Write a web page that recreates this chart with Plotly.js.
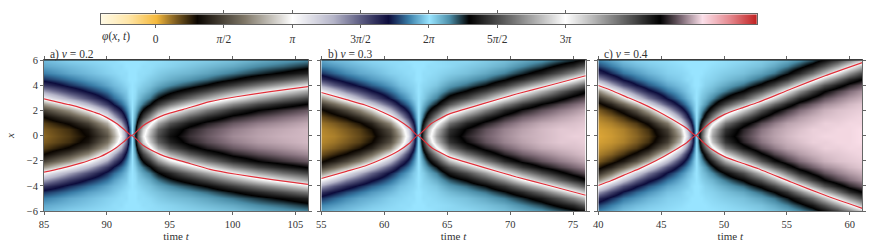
<!DOCTYPE html>
<html><head><meta charset="utf-8">
<script src="https://cdn.plot.ly/plotly-3.0.1.min.js"></script>
<style>html,body{margin:0;padding:0;background:#fff}#c{width:880px;height:243px}</style>
</head><body><div id="c"></div>
<script>
// x rows (upper half; the picture is mirror-symmetric about x = 0)
const xHalf = [0,0.5,1,1.5,2,2.5,3,3.5,4,4.5,5,5.5,6];

// phase in units of pi, one list per time column
const tA = [85,87,88.5,90,90.6,91.1,91.5,91.8,92,92.2,92.5,92.9,93.4,94.1,95,96.5,98,100,102,104,106];
const phiA = [
[.13,.15,.20,.30,.48,.73,1.05,1.35,1.59,1.75,1.85,1.91,1.94],
[.21,.23,.32,.48,.72,1.03,1.34,1.58,1.74,1.84,1.91,1.94,1.97],
[.31,.35,.48,.69,.99,1.29,1.54,1.72,1.83,1.90,1.94,1.96,1.98],
[.54,.63,.79,1.06,1.35,1.59,1.74,1.84,1.91,1.94,1.97,1.98,1.99],
[.77,.85,1.05,1.31,1.55,1.72,1.83,1.90,1.94,1.96,1.98,1.99,1.99],
[1.05,1.13,1.32,1.53,1.70,1.82,1.89,1.94,1.96,1.98,1.99,1.99,2],
[1.40,1.46,1.61,1.74,1.84,1.90,1.94,1.96,1.98,1.99,1.99,2,2],
[1.75,1.77,1.84,1.89,1.93,1.96,1.98,1.99,1.99,2,2,2,2],
[2,2,2,2,2,2,2,2,2,2,2,2,2],
[2.26,2.23,2.16,2.11,2.07,2.04,2.02,2.01,2.01,2,2,2,2],
[2.60,2.54,2.39,2.26,2.16,2.10,2.06,2.04,2.02,2.01,2.01,2,2],
[2.95,2.87,2.68,2.47,2.30,2.18,2.11,2.06,2.04,2.02,2.01,2.01,2],
[3.23,3.15,2.95,2.69,2.45,2.28,2.17,2.10,2.06,2.04,2.02,2.01,2.01],
[3.49,3.43,3.25,2.98,2.69,2.44,2.28,2.17,2.10,2.06,2.04,2.02,2.01],
[3.65,3.60,3.47,3.23,2.93,2.63,2.39,2.25,2.15,2.09,2.06,2.03,2.02],
[3.76,3.73,3.63,3.45,3.18,2.87,2.58,2.36,2.22,2.13,2.08,2.05,2.03],
[3.82,3.80,3.73,3.59,3.37,3.07,2.76,2.49,2.30,2.18,2.11,2.07,2.04],
[3.89,3.87,3.82,3.73,3.57,3.33,3.02,2.71,2.46,2.28,2.17,2.10,2.06],
[3.92,3.91,3.87,3.80,3.69,3.50,3.23,2.91,2.62,2.39,2.24,2.15,2.09],
[3.94,3.93,3.90,3.85,3.76,3.61,3.39,3.09,2.77,2.50,2.31,2.19,2.12],
[3.95,3.95,3.93,3.89,3.82,3.70,3.51,3.25,2.93,2.63,2.39,2.25,2.15]
];
const tB = [55,56,57,58,59,60.5,61.3,61.9,62.3,62.55,62.7,62.85,63.1,63.5,64.1,65.2,66.5,68,69.5,71,72.5,74,75,76];
const phiB = [
[.07,.08,.11,.17,.28,.46,.72,1.04,1.35,1.60,1.75,1.86,1.91],
[.09,.11,.15,.24,.38,.61,.90,1.23,1.51,1.70,1.82,1.89,1.94],
[.13,.15,.20,.31,.50,.77,1.10,1.41,1.63,1.78,1.87,1.92,1.95],
[.18,.20,.28,.43,.67,.98,1.30,1.55,1.73,1.84,1.91,1.94,1.97],
[.25,.29,.39,.60,.88,1.20,1.48,1.68,1.81,1.89,1.93,1.96,1.98],
[.47,.53,.70,.98,1.28,1.53,1.72,1.83,1.90,1.94,1.97,1.98,1.99],
[.74,.83,1.04,1.31,1.56,1.73,1.84,1.91,1.95,1.97,1.98,1.99,1.99],
[1.11,1.19,1.39,1.59,1.74,1.84,1.91,1.95,1.97,1.98,1.99,1.99,2],
[1.50,1.55,1.67,1.79,1.87,1.92,1.96,1.97,1.98,1.99,1.99,2,2],
[1.80,1.83,1.88,1.92,1.95,1.97,1.98,1.99,1.99,2,2,2,2],
[2,2,2,2,2,2,2,2,2,2,2,2,2],
[2.20,2.17,2.12,2.08,2.05,2.03,2.02,2.01,2.01,2,2,2,2],
[2.50,2.45,2.33,2.21,2.13,2.08,2.04,2.03,2.02,2.01,2.01,2,2],
[2.89,2.81,2.61,2.41,2.26,2.16,2.09,2.05,2.03,2.02,2.01,2.01,2],
[3.26,3.17,2.96,2.69,2.44,2.27,2.16,2.09,2.05,2.03,2.02,2.01,2.01],
[3.60,3.55,3.39,3.13,2.81,2.52,2.34,2.20,2.12,2.07,2.04,2.02,2.02],
[3.74,3.70,3.59,3.38,3.08,2.77,2.49,2.30,2.18,2.11,2.06,2.04,2.02],
[3.83,3.81,3.73,3.59,3.35,3.04,2.73,2.47,2.28,2.17,2.10,2.06,2.04],
[3.89,3.88,3.83,3.74,3.58,3.33,3.02,2.69,2.44,2.27,2.16,2.09,2.06],
[3.93,3.92,3.89,3.83,3.72,3.54,3.28,2.96,2.65,2.40,2.25,2.15,2.09],
[3.95,3.95,3.93,3.88,3.81,3.69,3.49,3.21,2.88,2.58,2.36,2.22,2.13],
[3.97,3.97,3.95,3.92,3.87,3.79,3.65,3.44,3.14,2.81,2.53,2.33,2.20],
[3.98,3.97,3.96,3.94,3.90,3.84,3.74,3.57,3.31,2.99,2.67,2.41,2.25],
[3.98,3.98,3.97,3.96,3.93,3.88,3.80,3.67,3.46,3.17,2.83,2.55,2.34]
];
const tC = [40,41,42,43,44,45.5,46.5,47.1,47.4,47.65,47.8,47.95,48.2,48.5,49.1,50.1,51.5,53,54,55,56,57,58,59,60,61];
const phiC = [
[.03,.04,.06,.09,.15,.26,.43,.70,1.03,1.36,1.61,1.77,1.86],
[.05,.06,.09,.14,.24,.40,.64,.96,1.30,1.56,1.74,1.85,1.91],
[.08,.09,.14,.22,.36,.59,.90,1.24,1.52,1.72,1.84,1.91,1.95],
[.13,.15,.21,.34,.54,.84,1.19,1.48,1.69,1.82,1.89,1.94,1.97],
[.20,.23,.33,.51,.79,1.13,1.43,1.66,1.80,1.88,1.93,1.96,1.98],
[.42,.48,.65,.94,1.26,1.53,1.72,1.84,1.91,1.95,1.97,1.98,1.99],
[.75,.84,1.07,1.35,1.60,1.76,1.86,1.92,1.95,1.97,1.98,1.99,2],
[1.16,1.25,1.44,1.64,1.78,1.87,1.93,1.96,1.97,1.99,1.99,2,2],
[1.47,1.53,1.67,1.80,1.88,1.93,1.96,1.98,1.99,1.99,2,2,2],
[1.80,1.82,1.88,1.92,1.96,1.97,1.99,1.99,2,2,2,2,2],
[2,2,2,2,2,2,2,2,2,2,2,2,2],
[2.21,2.18,2.13,2.08,2.05,2.03,2.02,2.01,2,2,2,2,2],
[2.53,2.48,2.34,2.20,2.13,2.07,2.05,2.03,2.01,2.01,2,2,2],
[2.84,2.76,2.56,2.36,2.22,2.13,2.08,2.05,2.03,2.02,2.01,2,2],
[3.25,3.17,2.94,2.65,2.40,2.25,2.15,2.08,2.05,2.03,2.02,2.01,2],
[3.61,3.55,3.38,3.10,2.77,2.49,2.30,2.17,2.10,2.06,2.04,2.02,2.01],
[3.77,3.74,3.63,3.42,3.13,2.79,2.50,2.30,2.18,2.10,2.06,2.04,2.02],
[3.88,3.86,3.80,3.67,3.47,3.18,2.83,2.53,2.32,2.19,2.11,2.06,2.04],
[3.92,3.91,3.87,3.79,3.65,3.42,3.11,2.76,2.49,2.29,2.17,2.10,2.06],
[3.95,3.94,3.92,3.86,3.77,3.61,3.37,3.05,2.71,2.44,2.27,2.16,2.09],
[3.97,3.96,3.94,3.91,3.85,3.75,3.58,3.31,2.97,2.65,2.40,2.24,2.14],
[3.98,3.98,3.96,3.94,3.90,3.83,3.71,3.52,3.24,2.89,2.59,2.35,2.21],
[3.99,3.98,3.98,3.96,3.94,3.89,3.81,3.68,3.47,3.16,2.82,2.52,2.32],
[3.99,3.99,3.98,3.97,3.96,3.92,3.87,3.78,3.62,3.38,3.07,2.73,2.46],
[3.99,3.99,3.99,3.98,3.97,3.95,3.91,3.85,3.74,3.57,3.30,2.96,2.64],
[4,4,3.99,3.99,3.98,3.97,3.94,3.90,3.82,3.69,3.50,3.20,2.86]
];

// red tracks (upper branch, lower branch is its mirror image)
const redTA = [85,87,88,89,89.45,90,90.78,91.44,91.98,92.9,94.23,95,96.09,98.2,100.3,103,106];
const redXA = [2.92,2.45,2.18,1.85,1.69,1.42,.95,.42,0,.80,1.50,1.78,2.08,2.69,3.08,3.48,3.88];
const redTB = [55,57,58.47,59.8,61.12,62.05,62.66,63.24,63.77,65.09,66.4,67.87,70.5,73.17,76];
const redXB = [3.42,2.85,2.42,1.89,1.23,.57,0,.50,.97,1.68,2.10,2.53,3.30,3.99,4.75];
const redTC = [40,41,42.39,43.32,44.65,45.97,47.03,47.75,48.35,49.02,50.08,51.3,52.73,55.38,58.04,61];
const redXC = [3.97,3.6,3.0,2.61,1.97,1.23,.57,0,.55,1.1,1.70,2.15,2.64,3.72,4.75,5.79];

// colour bar
const barPhi = [-0.4,-0.3,-0.2,-0.1,0,0.1,0.2,0.3,0.4,0.5,0.6,0.7,0.8,0.9,1,1.1,1.2,1.3,1.4,1.5,1.6,1.7,1.8,1.9,2,2.1,2.2,2.3,2.4,2.5,2.6,2.7,2.8,2.9,3,3.1,3.2,3.3,3.4,3.5,3.6,3.7,3.8,3.9,4,4.1,4.2,4.3,4.4];
const barTicks = [0,0.5,1,1.5,2,2.5,3];
const barLabels = ['0','<i>π</i>/2','<i>π</i>','3<i>π</i>/2','2<i>π</i>','5<i>π</i>/2','3<i>π</i>'];
const stopPhi = [-0.4,-0.2,0,0.15,0.3,0.65,1,1.3,1.5,1.7,1.85,2,2.15,2.29,2.65,3,3.35,3.69,3.85,4,4.2,4.4];
const stopCol = ['#fff9e3','#ffe6a8','#f5b93c','#7a5a20','#0a0500','#807868','#ffffff','#b4b4c8','#5a5a80','#0c0c3c','#3a7ea8','#98e4ff','#4a8ca6','#000000','#808080','#ffffff','#808080','#000000','#806c78','#fbdfe9','#e58a90','#bf1e1e'];

const panelTicks = {a:[85,90,95,100,105], b:[55,60,65,70,75], c:[40,45,50,55,60]};
const panelRange = {a:[85,106], b:[55,76], c:[40,61]};
const yTicks = [-6,-4,-2,0,2,4,6];

const W=880,H=243;
const scale = stopPhi.map((p,i)=>[Math.max(0,Math.min(1,Math.round((p+0.4)/4.8*1e6)/1e6)), stopCol[i]]);
const full = c => c.slice(1).reverse().concat(c);
const yFull = xHalf.slice(1).reverse().map(v=>-v).concat(xHalf);
const txt = '#333333', ax = '#666666', F = 'Liberation Serif, serif';
const redLine = {color:'#e0323c',width:1.2,shape:'spline',smoothing:0.5};

function panel(k,t,phi,rt,rx,idx){
  const xa = idx===1?'x':'x'+idx, ya = idx===1?'y':'y'+idx;
  return [
   {type:'heatmap',x:t,y:yFull,z:phi.map(full),transpose:true,zsmooth:'best',zmin:-0.4,zmax:4.4,
    colorscale:scale,showscale:false,hoverinfo:'skip',xaxis:xa,yaxis:ya},
   {type:'scatter',mode:'lines',x:rt,y:rx,line:redLine,hoverinfo:'skip',showlegend:false,xaxis:xa,yaxis:ya},
   {type:'scatter',mode:'lines',x:rt,y:rx.map(v=>-v),line:redLine,hoverinfo:'skip',showlegend:false,xaxis:xa,yaxis:ya}
  ];
}
const data = [].concat(
  panel('a',tA,phiA,redTA,redXA,1),
  panel('b',tB,phiB,redTB,redXB,2),
  panel('c',tC,phiC,redTC,redXC,3),
  [{type:'heatmap',x:barPhi,y:[0,1],z:[barPhi,barPhi],zsmooth:'best',zmin:-0.4,zmax:4.4,colorscale:scale,showscale:false,hoverinfo:'skip',xaxis:'x4',yaxis:'y4'}]
);

const yDom = [(H-211)/H,(H-60)/H];
const common = {showgrid:false,zeroline:false,showline:true,linecolor:ax,linewidth:1,mirror:'ticks',ticks:'outside',ticklen:3,tickcolor:ax,tickwidth:1,
  tickfont:{family:F,size:10.5,color:txt}};
function xAxis(dom,ticks,range,anchor){
  return Object.assign({},common,{domain:[dom[0]/W,dom[1]/W],range:range,tickmode:'array',tickvals:ticks,ticktext:ticks.map(String),anchor:anchor,
    title:{text:'time <i>t</i>',font:{family:F,size:11,color:txt},standoff:1}});
}
function yAxis(anchor,labels){
  return Object.assign({},common,{domain:yDom,range:[-6,6],tickmode:'array',tickvals:yTicks,showticklabels:labels,anchor:anchor},
    labels?{title:{text:'<i>x</i>',font:{family:F,size:11,color:txt},standoff:9}}:{});
}
const panelX = [[44,308],[321.3,585.7],[598.3,862.3]];
const lab = (x,y,text)=>({xref:'paper',yref:'paper',x:x/W,y:(H-y)/H,xanchor:'left',yanchor:'middle',showarrow:false,text:text,font:{family:F,size:11.5,color:txt}});
const layout = {
  width:W,height:H,margin:{l:0,r:0,t:0,b:0},paper_bgcolor:'#fff',plot_bgcolor:'#fff',showlegend:false,
  font:{family:F,size:10.5,color:txt},
  xaxis:xAxis(panelX[0],panelTicks.a,panelRange.a,'y'),
  yaxis:yAxis('x',true),
  xaxis2:xAxis(panelX[1],panelTicks.b,panelRange.b,'y2'),
  yaxis2:yAxis('x2',false),
  xaxis3:xAxis(panelX[2],panelTicks.c,panelRange.c,'y3'),
  yaxis3:yAxis('x3',false),
  xaxis4:Object.assign({},common,{domain:[101/W,756.7/W],range:[-0.4,4.4],anchor:'y4',tickmode:'array',tickvals:barTicks,ticktext:barLabels,ticklen:3,ticklabelstandoff:1,tickfont:{family:F,size:11.5,color:txt}}),
  yaxis4:{domain:[(H-24.3)/H,(H-14.3)/H],range:[0,1],anchor:'x4',showticklabels:false,ticks:'',showgrid:false,zeroline:false,showline:true,linecolor:ax,mirror:true},
  annotations:[
    lab(100,36.5,'<i>φ</i>(<i>x</i>, <i>t</i>)'),
    lab(48,55,'a) <i>v</i> = 0.2'),
    lab(326,55,'b) <i>v</i> = 0.3'),
    lab(602,55,'c) <i>v</i> = 0.4')
  ],
  shapes:['',2,3].map(s=>({type:'line',xref:'x'+s+' domain',yref:'y'+s+' domain',x0:0,x1:1,y0:1,y1:1,line:{color:'#111',width:1}}))
};
Plotly.newPlot('c',data,layout,{displayModeBar:false,staticPlot:true});
</script></body></html>
